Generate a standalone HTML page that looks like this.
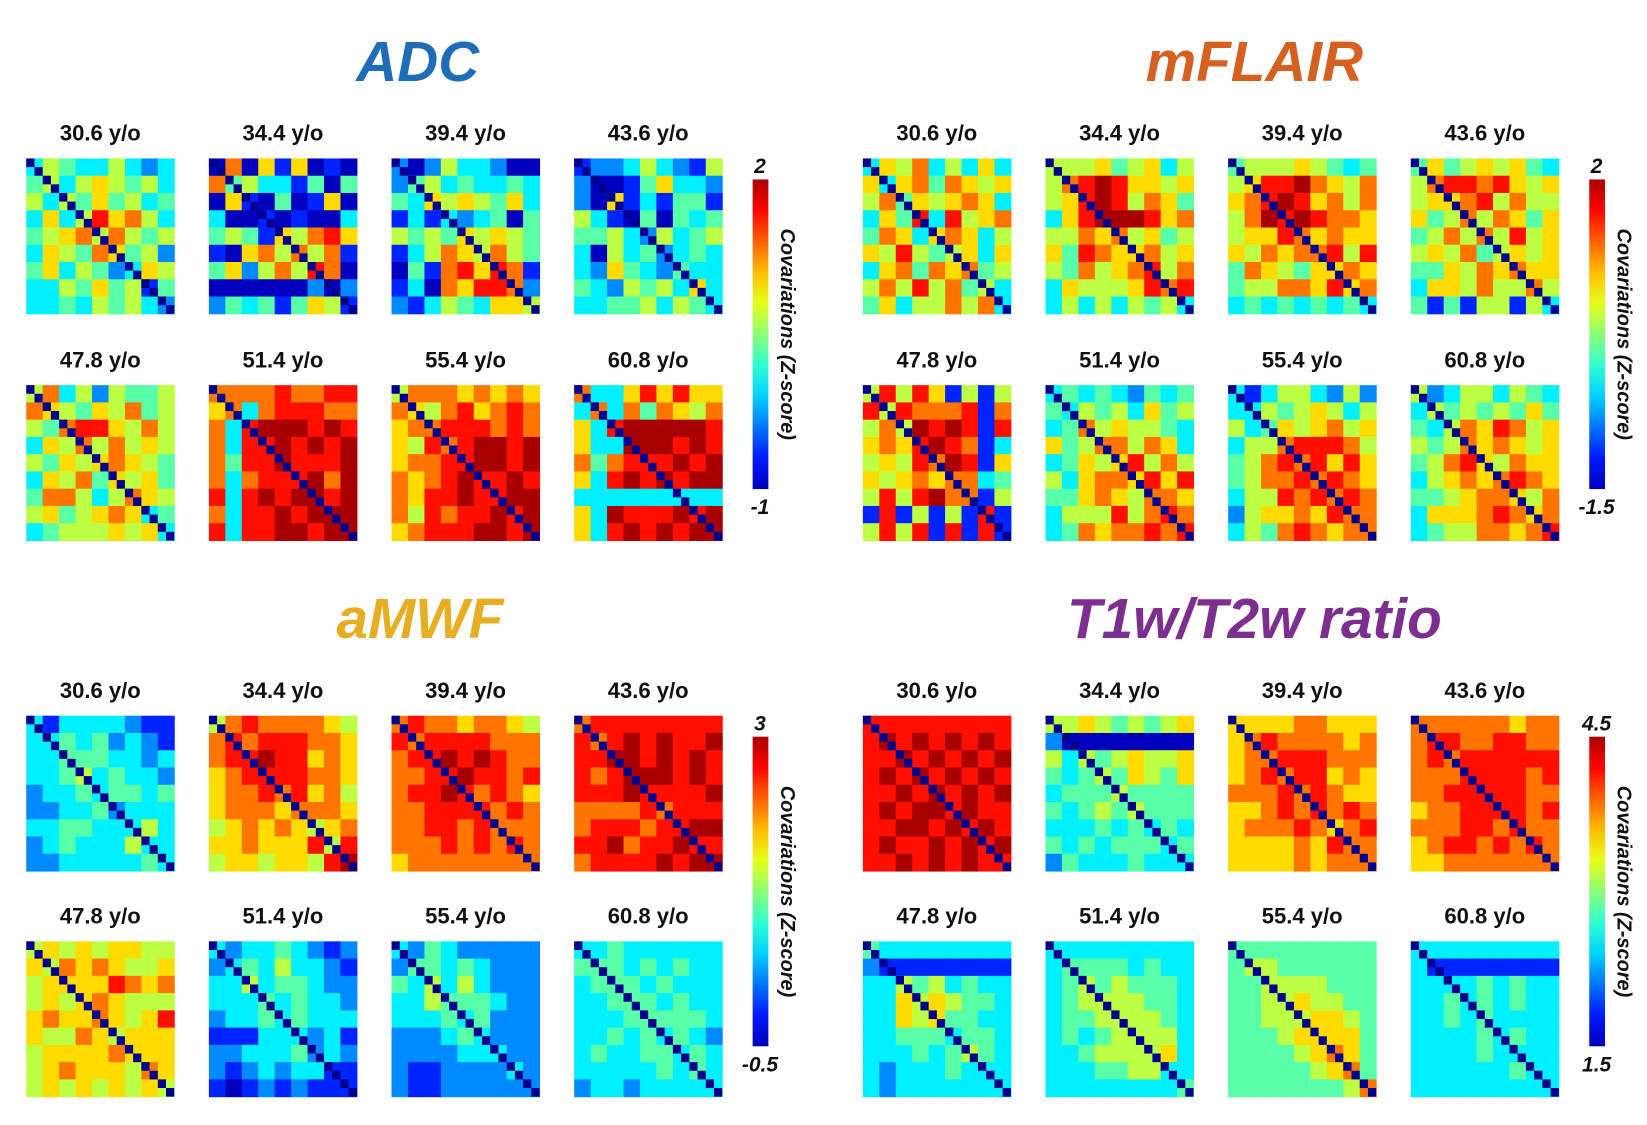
<!DOCTYPE html>
<html><head><meta charset="utf-8">
<style>
html,body{margin:0;padding:0;background:#fff;}
svg{display:block;font-family:"Liberation Sans",Arial,sans-serif;}
</style></head>
<body>
<svg id="fig" width="1647" height="1125" viewBox="0 0 1569 1072" preserveAspectRatio="none" xmlns="http://www.w3.org/2000/svg"></svg>
<script>
// ---- data ----
const panelTitles = ["ADC","mFLAIR","aMWF","T1w/T2w ratio"];
const panelColors = ["#1f6db6","#d6601f","#e7ae22","#7d2f8f"];
const titleCenters = [398,1195,400,1195];
const cbarTop = ["2","2","3","4.5"];
const cbarBottom = ["-1","-1.5","-0.5","1.5"];
const ages = ["30.6 y/o","34.4 y/o","39.4 y/o","43.6 y/o","47.8 y/o","51.4 y/o","55.4 y/o","60.8 y/o"];
// 9x9 coarse matrices, digit 0 (dark blue) .. 9 (dark red), each coarse cell = 2x2 original cells
const adcMaps = [
["354335323","453565453","535464534","363586753","456757545","365476452","463542365","335464514","334354532"],
["070616010","745331404","061040160","300101003","454165786","106757571","462575870","000000202","243414651"],
["202533200","245343343","436565463","131323404","545465654","135765754","041786871","130768872","213543665"],
["122353215","200146332","206131441","531040434","445325345","305342343","326432433","432545363","334453543"],
["573525445","765465745","547886575","365757565","546567654","365746564","477535765","564567634","345556563"],
["777787788","673788877","738999898","738898989","748898889","737888979","838989989","738898999","838899899"],
["577767676","765786787","677888787","658789989","677889989","767898898","768898899","758788989","678889989"],
["733686866","373747657","638999998","633999898","747888989","638989899","333333333","639888989","638989899"]
];
const flairMaps = [
["365735363","636747656","574656763","364838567","476367635","658545636","367476745","575857453","463557573"],
["555645635","578986656","568985764","368999867","557675645","648766756","547567857","365556878","353535453"],
["455565434","568897657","678986757","579898776","566876766","657677858","476546676","455776867","343434343"],
["464565643","578878656","566785755","645757646","457575856","565745656","446576766","366575575","414155153"],
["585861515","858777817","575989818","676898713","565879816","656767734","585897715","181515181","585818181"],
["343432434","435453645","347565543","645775763","346568575","536776868","446765776","355585787","347677878"],
["313553252","335456535","534656756","355788875","457878686","457787876","355878787","256676877","354787677"],
["523553543","354545464","435768756","545767656","457865766","356767876","445677657","366678767","345577678"]
];
const amwfMaps = [
["313333211","334342321","334443323","334534332","233434434","223342333","334433353","234333533","223333343"],
["578777765","787888776","788988676","678888776","677878675","677767776","567676567","667666858","566566589"],
["787767765","878888777","788989877","778898878","788987876","778888787","778878777","777878787","677777777"],
["788888888","878989889","889989898","878999898","888988889","777787888","788878899","889788988","788889899"],
["565656655","657676556","566668767","565676555","676676568","655765666","566667666","567666576","565656565"],
["323343212","234353321","335344322","333434332","233434333","111333231","223334232","212323311","101212111"],
["324322222","244343222","435353222","335444322","333434222","222343222","222233322","211222232","211222222"],
["334333333","444343433","344434333","334443433","333444443","334343432","343344343","333334343","233233333"]
];
const t1Maps = [
["888888888","898989898","889898989","898989898","889898989","898998988","889989898","898898989","889898988"],
["556545456","200000000","535456556","434546546","344454444","434545444","333434343","434344434","243334333"],
["666677666","678777767","677888777","678788676","777878766","667878787","677787678","666676877","666676777"],
["777777677","788778877","787888888","777888878","778888877","677888878","777887877","678878787","667777777"],
["433333333","211111111","335453433","336565443","336564433","334443443","333434543","323334333","323333333"],
["333333333","344443433","345454443","345555443","344555543","343455553","334555563","333445533","333333334"],
["444444444","455444444","445555444","445565544","445556654","444566664","444456764","444445674","444444457"],
["333333333","311111111","333343433","334343433","334343333","333343433","333343333","333333433","333333333"]
];
const allMaps = [adcMaps, flairMaps, amwfMaps, t1Maps];

// ---- layout ----
const colX = [[25,199,373,547],[822,996,1170,1344]];
const rowY = [[151,367],[682,897]];
const HW = 141, HH = 148;

function jet(t){
  t=Math.max(0,Math.min(1,t));
  const r=Math.max(0,Math.min(1,1.5-Math.abs(4*t-3)));
  const g=Math.max(0,Math.min(1,1.5-Math.abs(4*t-2)));
  const b=Math.max(0,Math.min(1,1.5-Math.abs(4*t-1)));
  return `rgb(${Math.round(r*255)},${Math.round(g*255)},${Math.round(b*255)})`;
}
const NS="http://www.w3.org/2000/svg";
const svg=document.getElementById('fig');
function mk(tag,attrs,parent){const e=document.createElementNS(NS,tag);for(const k in attrs)e.setAttribute(k,attrs[k]);(parent||svg).appendChild(e);return e;}

for(let p=0;p<4;p++){
  const side=p%2, band=Math.floor(p/2);
  const xs=colX[side], ys=rowY[band];
  const title=mk('text',{x:titleCenters[p],y:ys[0]-74,'text-anchor':'middle','font-size':54,'font-weight':'bold','font-style':'italic',fill:panelColors[p]});
  title.textContent=panelTitles[p];
  
  
  for(let h=0;h<8;h++){
    const gx=xs[h%4], gy=ys[Math.floor(h/4)];
    const lab=mk('text',{x:gx+HW/2,y:gy-17,'text-anchor':'middle','font-size':21,'font-weight':'bold',fill:'#111'});
    lab.textContent=ages[h];
    
    
    const g=mk('g',{});
    
    
    const m=allMaps[p][h];
    const n=m.length, cw=HW/n, ch=HH/n;
    for(let r=0;r<n;r++)for(let c=0;c<n;c++){
      const v=+m[r][c];
      const rc=mk('rect',{x:gx+c*cw,y:gy+r*ch,width:cw+0.5,height:ch+0.5,fill:jet(0.06+v/9*0.9)},g);
      
      
    }
    const N=18, dw=HW/N, dh=HH/N;
    for(let i=0;i<N;i++){
      const d=mk('rect',{x:gx+i*dw,y:gy+i*dh,width:dw,height:dh,fill:'#00008f'},g);
      
      
    }
  }
  // colorbar
  const bx = side===0 ? 717 : 1514;
  const by = ys[0]+20, bh = 295;
  const defs=mk('defs',{});
  const lg=mk('linearGradient',{id:'jg'+p,x1:0,y1:1,x2:0,y2:0},defs);
  for(let s=0;s<=10;s++) mk('stop',{offset:s/10,'stop-color':jet(0.06+s/10*0.9)},lg);
  const bar=mk('rect',{x:bx,y:by,width:15,height:bh,fill:`url(#jg${p})`});
  
  
  const t1=mk('text',{x:bx+7,y:by-6,'text-anchor':'middle','font-size':20,'font-weight':'bold','font-style':'italic',fill:'#111'});
  t1.textContent=cbarTop[p];
  
  
  const t2=mk('text',{x:bx+7,y:by+bh+24,'text-anchor':'middle','font-size':20,'font-weight':'bold','font-style':'italic',fill:'#111'});
  t2.textContent=cbarBottom[p];
  
  
  const ty=by+bh/2;
  const t3=mk('text',{x:bx+27,y:ty,'text-anchor':'middle','font-size':19,'font-weight':'bold','font-style':'italic',fill:'#111',transform:`rotate(90 ${bx+27} ${ty})`});
  t3.textContent='Covariations (Z-score)';
  
  
}
</script>
</body></html>
